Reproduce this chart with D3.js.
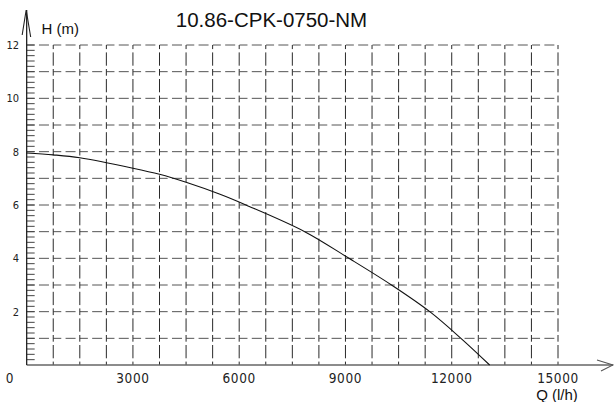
<!DOCTYPE html>
<html>
<head>
<meta charset="utf-8">
<script src="https://cdn.jsdelivr.net/npm/d3@7"></script>
<style>
  body { margin:0; background:#fff; }
  #plot { width:614px; height:402px; }
</style>
</head>
<body>
<div id="plot"></div>
<script>
// pump curve 10.86-CPK-0750-NM
var title = "10.86-CPK-0750-NM";
var flowQ = [0, 750, 1500, 3000, 3750, 4500, 5440, 6190, 7850, 9100, 10300, 11380, 12260, 13070];
var headH = [7.95, 7.88, 7.77, 7.38, 7.15, 6.85, 6.41, 6.0, 5.0, 4.0, 3.0, 2.0, 1.0, 0];
var xTicks = [0, 3000, 6000, 9000, 12000, 15000];
var yTicks = [2, 4, 6, 8, 10, 12];

var W = 614, H = 402;
var margin = {t:45, r:56, b:37, l:26.67};

var svg = d3.select('#plot')
    .append('svg')
    .attr('width', W)
    .attr('height', H);

var x = d3.scaleLinear().domain([0, 15000]).range([margin.l, W - margin.r]);
var y = d3.scaleLinear().domain([0, 12]).range([H - margin.b, margin.t]);

var narrow = "'Liberation Sans Narrow', 'DejaVu Sans Condensed', sans-serif";
var sans = "Arial, 'Liberation Sans', sans-serif";

//grid: horizontal every 1 m, vertical every 750 l/h
var grid = svg.append('g').attr('class','grid')
    .style('stroke','#2a2a2a')
    .style('stroke-width',1)
    .style('fill','none');

grid.selectAll('line.h')
    .data(d3.range(1, 13))
    .enter().append('line')
    .attr('class','h')
    .attr('x1', x(0)).attr('x2', x(15000))
    .attr('y1', function(d){ return y(d); })
    .attr('y2', function(d){ return y(d); })
    .style('stroke','#555')
    .style('stroke-dasharray','8 4.3 10 4.3')
    .style('stroke-dashoffset', 0);

grid.selectAll('line.v')
    .data(d3.range(750, 15001, 750))
    .enter().append('line')
    .attr('class','v')
    .attr('x1', function(d){ return x(d); })
    .attr('x2', function(d){ return x(d); })
    .attr('y1', y(0)).attr('y2', y(12))
    .style('stroke-dasharray','6.7 3.3 13.3 3.3')
    .style('stroke-dashoffset', 3.3);

//minor ticks on the H axis (0.2 m)
svg.append('g')
    .selectAll('line')
    .data(d3.range(0, 60))
    .enter().append('line')
    .attr('x1', x(0)).attr('x2', x(0) + 8)
    .attr('y1', function(d){ return y(12 - d * 0.2); })
    .attr('y2', function(d){ return y(12 - d * 0.2); })
    .style('stroke','#444')
    .style('stroke-width',1);

//axes with open arrow heads
svg.append('line')
    .attr('x1', x(0)).attr('x2', W - 1)
    .attr('y1', y(0)).attr('y2', y(0))
    .style('stroke','#666').style('stroke-width',1.6);
svg.append('path')
    .attr('d','M' + (W-17) + ',' + (y(0)-5) + 'L' + (W-1) + ',' + y(0) + 'L' + (W-13) + ',' + (y(0)+6))
    .style('fill','none').style('stroke','#555').style('stroke-width',1.1);

svg.append('line')
    .attr('x1', x(0)).attr('x2', x(0))
    .attr('y1', y(0)).attr('y2', 10)
    .style('stroke','#222').style('stroke-width',1.3);
svg.append('path')
    .attr('d','M' + (x(0)-4.5) + ',35L' + (x(0)-0.5) + ',10L' + (x(0)+4) + ',37')
    .style('fill','none').style('stroke','#222').style('stroke-width',1.1);

//tick labels
svg.selectAll('text.yl')
    .data(yTicks)
    .enter().append('text')
    .attr('class','yl')
    .attr('x', 19)
    .attr('y', function(d){ return y(d) + 4; })
    .attr('text-anchor','end')
    .style('font-family', narrow)
    .style('font-size','11px')
    .style('fill','#222')
    .text(function(d){ return d; });

svg.selectAll('text.xl')
    .data(xTicks)
    .enter().append('text')
    .attr('class','xl')
    .attr('x', function(d){ return d === 0 ? 10 : x(d); })
    .attr('y', 383)
    .attr('text-anchor','middle')
    .style('font-family', narrow)
    .style('font-size','13.5px')
    .style('letter-spacing','0.6px')
    .style('fill','#222')
    .text(function(d){ return d; });

//axis titles and chart title
svg.append('text')
    .attr('x', 41.5).attr('y', 33.5)
    .style('font-family', sans).style('font-size','15px').style('fill','#111')
    .text('H (m)');

svg.append('text')
    .attr('x', 557).attr('y', 400)
    .attr('text-anchor','middle')
    .style('font-family', sans).style('font-size','15px').style('fill','#111')
    .text('Q (l/h)');

svg.append('text')
    .attr('x', 271.5).attr('y', 27)
    .attr('text-anchor','middle')
    .style('font-family', sans).style('font-size','20.5px').style('fill','#111')
    .text(title);

//performance curve
var pts = flowQ.map(function(q, i){ return [q, headH[i]]; });
var line = d3.line()
    .x(function(d){ return x(d[0]); })
    .y(function(d){ return y(d[1]); })
    .curve(d3.curveCatmullRom.alpha(0.5));

svg.append('path')
    .datum(pts)
    .attr('d', line)
    .style('fill','none')
    .style('stroke','#111')
    .style('stroke-width',1.1);
</script>
</body>
</html>
